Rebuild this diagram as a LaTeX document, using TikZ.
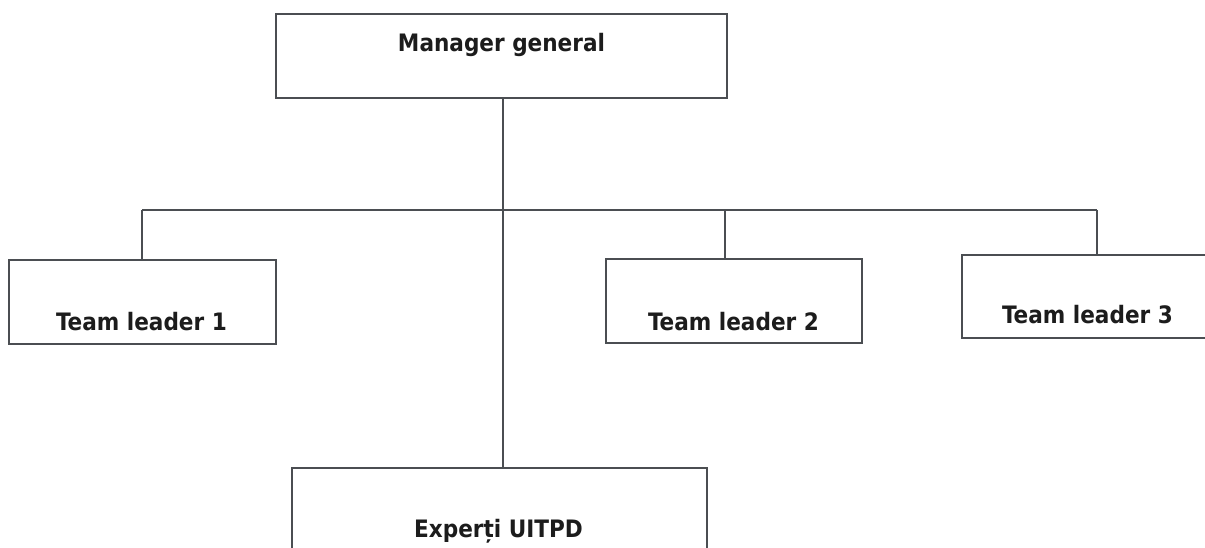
\documentclass[tikz,border=0pt]{standalone}
\usepackage{fontspec}
\setmainfont{DejaVu Sans Condensed}
\definecolor{linegray}{RGB}{75,78,82}
\definecolor{txt}{RGB}{28,28,28}
\tikzset{
  orgbox/.style={draw=linegray, line width=2pt, fill=white, rectangle, inner sep=0pt, outer sep=0pt},
  lbl/.style={text=txt, font=\fontsize{24}{28}\selectfont\bfseries, inner sep=0pt, anchor=center},
  wire/.style={draw=linegray, line width=2pt}
}
\begin{document}
\begin{tikzpicture}[x=1pt,y=-1pt]
\useasboundingbox[fill=white] (0,0) rectangle (1205,547);
% boxes
\node[orgbox, minimum width=451pt, minimum height=84pt] (mg) at (501.5,56) {};
\node[orgbox, minimum width=267pt, minimum height=84pt] (t1) at (142.5,302) {};
\node[orgbox, minimum width=256pt, minimum height=84pt] (t2) at (734,301) {};
\node[orgbox, minimum width=270pt, minimum height=83pt] (t3) at (1097,296.5) {};
\node[orgbox, minimum width=415pt, minimum height=130pt] (ex) at (499.5,533) {};
% labels
\node[lbl] (lmg) at (501.5,45) {Manager general};
\node[lbl] (lt1) at (141.5,322) {Team leader 1};
\node[lbl] (lt2) at (733.5,322) {Team leader 2};
\node[lbl] (lt3) at (1087.5,315) {Team leader 3};
\node[lbl] (lex) at (498.5,531) {Experți UITPD};
% junctions
\coordinate (j0) at (503,210);
\coordinate (j1) at (142,210);
\coordinate (j2) at (725,210);
\coordinate (j3) at (1097,210);
% connectors
\draw[wire] (j0 |- mg.south) -- (j0 |- ex.north);
\draw[wire] (j1) -- (j3);
\draw[wire] (j1) -- (j1 |- t1.north);
\draw[wire] (j2) -- (j2 |- t2.north);
\draw[wire] (j3) -- (j3 |- t3.north);
\end{tikzpicture}
\end{document}
